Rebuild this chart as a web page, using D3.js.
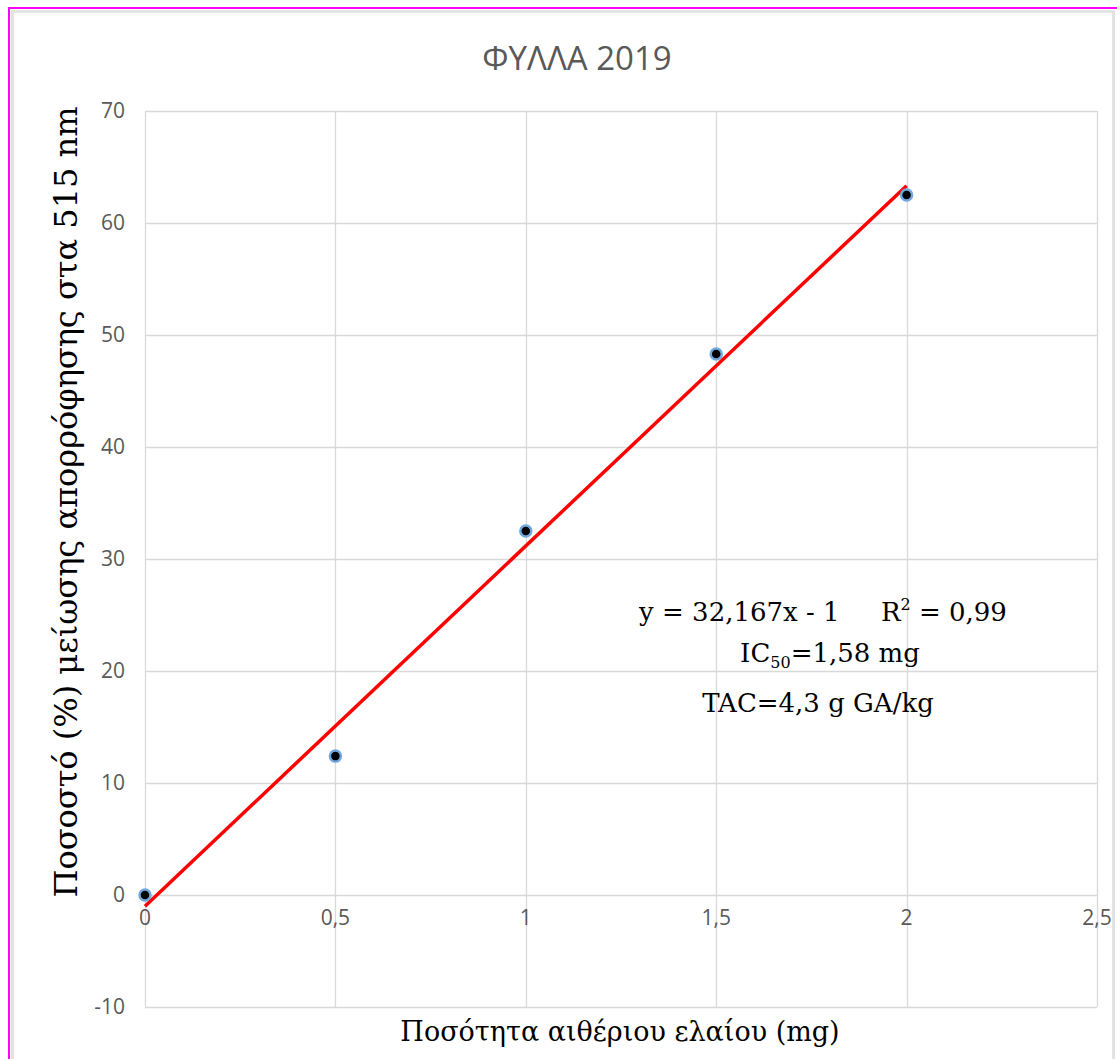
<!DOCTYPE html>
<html>
<head>
<meta charset="utf-8">
<script src="https://cdn.jsdelivr.net/npm/d3@7"></script>
<style>
  body { margin: 0; background: #fff; }
</style>
</head>
<body>
<div id="chart"></div>
<script>
var xValues = [0, 0.5, 1, 1.5, 2];
var yValues = [0, 12.4, 32.5, 48.3, 62.5];
var xTicks = [0, 0.5, 1, 1.5, 2, 2.5];
var yTicks = [-10, 0, 10, 20, 30, 40, 50, 60, 70];
var slope = 32.167, intercept = -1;
var titleText = "ΦΥΛΛΑ 2019";
var xTitle = "Ποσότητα αιθέριου ελαίου (mg)";
var yTitle = "Ποσοστό (%) μείωσης απορρόφησης στα 515 nm";

var W = 1117, H = 1059;
var margin = {top: 111, right: 20, bottom: 52, left: 145},
    width = 1097 - margin.left,
    height = 1007 - margin.top;

var root = d3.select("#chart")
  .append("svg")
    .attr("width", W)
    .attr("height", H);

// frame
root.append("rect")
  .attr("x", 12.5).attr("y", 11.5)
  .attr("width", 1101).attr("height", H)
  .attr("fill", "#fff")
  .attr("stroke", "#e3e3e3")
  .attr("stroke-width", 3);
root.append("line")
  .attr("x1", 9).attr("y1", 8).attr("x2", W).attr("y2", 8)
  .attr("stroke", "#ff00ff").attr("stroke-width", 2);
root.append("line")
  .attr("x1", 9).attr("y1", 7).attr("x2", 9).attr("y2", H)
  .attr("stroke", "#ff00ff").attr("stroke-width", 2);

var svg = root.append("g")
  .attr("transform", "translate(" + margin.left + "," + margin.top + ")");

var x = d3.scaleLinear().domain([0, 2.5]).range([0, width]);
var y = d3.scaleLinear().domain([-10, 70]).range([height, 0]);

var fmt = function(d) { return String(d).replace(".", ","); };

// grid
svg.selectAll(".vgrid")
  .data(xTicks)
  .enter().append("line")
    .attr("x1", function(d) { return Math.round(x(d)) + 0.5; })
    .attr("x2", function(d) { return Math.round(x(d)) + 0.5; })
    .attr("y1", 0).attr("y2", height)
    .attr("stroke", "#d9d9d9").attr("stroke-width", 1.3);
svg.selectAll(".hgrid")
  .data(yTicks)
  .enter().append("line")
    .attr("y1", function(d) { return Math.round(y(d)) + 0.5; })
    .attr("y2", function(d) { return Math.round(y(d)) + 0.5; })
    .attr("x1", 0).attr("x2", width)
    .attr("stroke", "#d9d9d9").attr("stroke-width", 1.3);

// tick labels
svg.selectAll(".ylab")
  .data(yTicks)
  .enter().append("text")
    .attr("x", -20)
    .attr("y", function(d) { return y(d); })
    .attr("dy", "0.35em")
    .attr("text-anchor", "end")
    .attr("fill", "#595959")
    .style("font-family", "'Open Sans', sans-serif")
    .style("font-size", "21px")
    .text(fmt);

svg.selectAll(".xlab")
  .data(xTicks)
  .enter().append("text")
    .attr("x", function(d) { return x(d); })
    .attr("y", y(0) + 23)
    .attr("dy", "0.35em")
    .attr("text-anchor", "middle")
    .attr("fill", "#595959")
    .style("font-family", "'Open Sans', sans-serif")
    .style("font-size", "21px")
    .text(fmt);

// trendline
svg.append("line")
  .attr("x1", x(0)).attr("y1", y(intercept))
  .attr("x2", x(2)).attr("y2", y(slope * 2 + intercept))
  .attr("stroke", "#ff0000")
  .attr("stroke-width", 3.5);

// points
svg.selectAll("circle")
  .data(xValues)
  .enter().append("circle")
    .attr("cx", function(d) { return x(d); })
    .attr("cy", function(d, i) { return y(yValues[i]); })
    .attr("r", 5.5)
    .attr("fill", "#000")
    .attr("stroke", "#6fa8dc")
    .attr("stroke-width", 2.5);

// title
root.append("text")
  .attr("x", 577).attr("y", 70)
  .attr("text-anchor", "middle")
  .attr("fill", "#595959")
  .style("font-family", "'Open Sans', sans-serif")
  .style("font-size", "33px")
  .text(titleText);

// axis titles
root.append("text")
  .attr("x", 620).attr("y", 1041)
  .attr("text-anchor", "middle")
  .attr("fill", "#000")
  .style("font-family", "'DejaVu Serif', serif")
  .style("font-size", "27px")
  .text(xTitle);

root.append("text")
  .attr("transform", "translate(77,502) rotate(-90)")
  .attr("text-anchor", "middle")
  .attr("fill", "#000")
  .style("font-family", "'DejaVu Serif', serif")
  .style("font-size", "32px")
  .text(yTitle);

// annotation
var ann = root.append("g")
  .style("font-family", "'DejaVu Serif', serif")
  .style("font-size", "26px")
  .style("white-space", "pre")
  .attr("fill", "#000");

var l1 = ann.append("text").attr("x", 823).attr("y", 621).attr("text-anchor", "middle")
  .attr("xml:space", "preserve");
l1.append("tspan").text("y = 32,167x - 1     R");
l1.append("tspan").attr("dy", -11).style("font-size", "16px").text("2");
l1.append("tspan").attr("dy", 11).text(" = 0,99");

var l2 = ann.append("text").attr("x", 830).attr("y", 662).attr("text-anchor", "middle");
l2.append("tspan").text("IC");
l2.append("tspan").attr("dy", 6).style("font-size", "16px").text("50");
l2.append("tspan").attr("dy", -6).text("=1,58 mg");

ann.append("text").attr("x", 818).attr("y", 712).attr("text-anchor", "middle")
  .text("TAC=4,3 g GA/kg");
</script>
</body>
</html>
